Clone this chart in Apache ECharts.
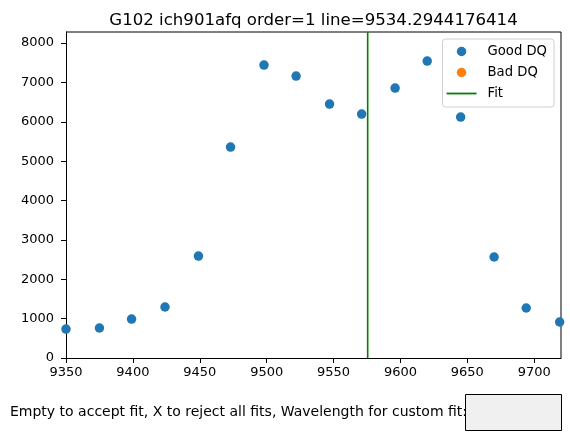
<!DOCTYPE html>
<html>
<head>
<meta charset="utf-8">
<script src="https://cdn.jsdelivr.net/npm/echarts@6/dist/echarts.min.js"></script>
<style>
  html, body { margin: 0; padding: 0; background: #fff; }
  #chart { width: 570px; height: 445px; }
</style>
</head>
<body>
<div id="chart"></div>
<script>
// pixel data
var wavelength = [9350, 9375, 9399, 9424, 9449, 9473, 9498, 9522, 9547, 9571, 9596, 9620, 9645, 9670, 9694, 9719];
var goodFlux = [736, 762, 990, 1295, 2590, 5358, 7440, 7161, 6450, 6196, 6856, 7542, 6120, 2565, 1270, 914];
var badWavelength = [];
var badFlux = [];
var fitLine = 9575.5;
var xTicks = [9350, 9400, 9450, 9500, 9550, 9600, 9650, 9700];
var yTicks = [0, 1000, 2000, 3000, 4000, 5000, 6000, 7000, 8000];
var xRange = [9350, 9720];
var yRange = [0, 8280];

var font = 'DejaVu Sans';
var myChart = echarts.init(document.getElementById('chart'));

var option = {
    animation: false,
    title: {
        text: 'G102 ich901afq order=1 line=9534.2944176414',
        left: 308.5,
        textAlign: 'center',
        top: 7,
        textStyle: { fontFamily: font, fontSize: 16.6, fontWeight: 'normal', color: '#000' }
    },
    grid: { left: 66, right: 9, top: 32, bottom: 87 },
    legend: {
        orient: 'vertical',
        right: 16,
        top: 39,
        backgroundColor: 'rgba(255,255,255,0.8)',
        borderColor: '#d0d0d0',
        borderWidth: 1,
        borderRadius: 3,
        padding: [6, 7, 7, 4],
        itemWidth: 30,
        itemHeight: 9.5,
        itemGap: 8,
        textStyle: { fontFamily: font, fontSize: 13.2, color: '#000', padding: [0, 0, 0, 6] },
        data: [
            { name: 'Good DQ', icon: 'circle' },
            { name: 'Bad DQ', icon: 'circle' },
            { name: 'Fit', icon: 'path://M0,0M0,3.85h30v1.8H0zM30,9.5' }
        ]
    },
    xAxis: {
        type: 'value',
        min: xRange[0],
        max: xRange[1],
        splitLine: { show: false },
        axisLine: { onZero: false, lineStyle: { color: '#000', width: 1 } },
        axisTick: { length: 5, lineStyle: { color: '#000' }, customValues: xTicks },
        axisLabel: {
            customValues: xTicks,
            fontFamily: font, fontSize: 13, color: '#000', margin: 8,
            formatter: function (v) { return String(v); }
        }
    },
    yAxis: {
        type: 'value',
        min: yRange[0],
        max: yRange[1],
        splitLine: { show: false },
        axisLine: { show: true, lineStyle: { color: '#000', width: 1 } },
        axisTick: { show: true, length: 5, lineStyle: { color: '#000' }, customValues: yTicks },
        axisLabel: {
            customValues: yTicks,
            fontFamily: font, fontSize: 13, color: '#000', margin: 12,
            formatter: function (v) { return String(v); }
        }
    },
    // top and right frame of the axes box, plus the text box widget
    graphic: [
        { type: 'line', shape: { x1: 66, y1: 32, x2: 561, y2: 32 }, style: { stroke: '#000', lineWidth: 1 } },
        { type: 'line', shape: { x1: 561, y1: 32, x2: 561, y2: 358 }, style: { stroke: '#000', lineWidth: 1 } },
        {
            type: 'text', x: 10, y: 412,
            style: {
                text: 'Empty to accept fit, X to reject all fits, Wavelength for custom fit:',
                fontFamily: font, fontSize: 14, fill: '#000', verticalAlign: 'middle'
            }
        },
        {
            type: 'rect', shape: { x: 465.5, y: 394.5, width: 96, height: 36 },
            style: { fill: '#f0f0f0', stroke: '#000', lineWidth: 1 }
        }
    ],
    series: [
        {
            name: 'Good DQ',
            type: 'scatter',
            symbol: 'circle',
            symbolSize: 9.5,
            itemStyle: { color: '#1f77b4', opacity: 1 },
            data: wavelength.map(function (w, i) { return [w, goodFlux[i]]; }),
            z: 3
        },
        {
            name: 'Bad DQ',
            type: 'scatter',
            symbol: 'circle',
            symbolSize: 9.5,
            itemStyle: { color: '#ff7f0e', opacity: 1 },
            data: badWavelength.map(function (w, i) { return [w, badFlux[i]]; })
        },
        {
            name: 'Fit',
            type: 'line',
            symbol: 'none',
            lineStyle: { color: '#008000', width: 1.6 },
            itemStyle: { color: '#008000' },
            data: [[fitLine, yRange[0]], [fitLine, yRange[1]]],
            z: 2
        }
    ]
};

myChart.setOption(option);
</script>
</body>
</html>
